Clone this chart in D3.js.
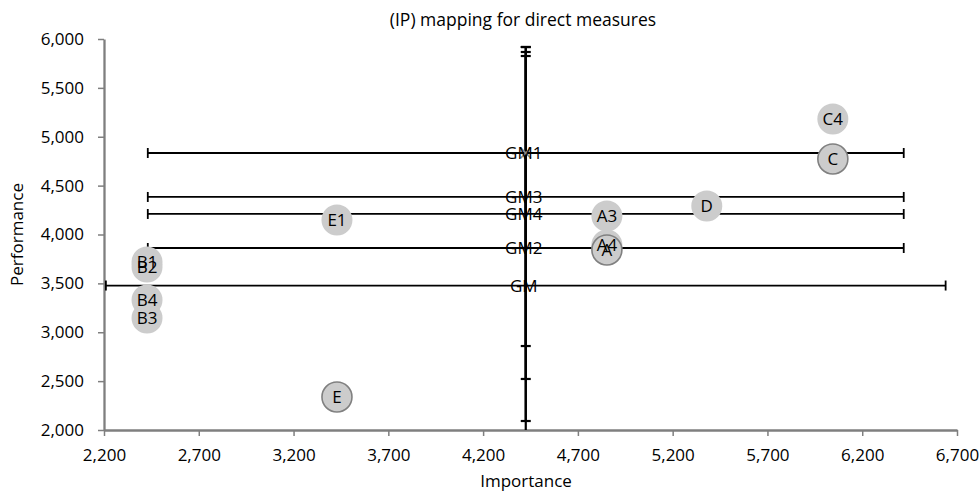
<!DOCTYPE html>
<html>
<head>
<meta charset="utf-8">
<script src="https://cdn.jsdelivr.net/npm/d3@7"></script>
<style>
  body { margin: 0; background: #fff; }
  text { font-family: "Open Sans", "Noto Sans", sans-serif; fill: #000; }
</style>
</head>
<body>
<div id="chart"></div>
<script>
'use strict';

// group means (GM) with error bars
const gmNames = ["GM", "GM1", "GM2", "GM3", "GM4"];
const gmImportance = [4425, 4425, 4425, 4425, 4425];
const gmPerformance = [3478, 4834, 3862, 4384, 4210];
const gmErrX = [2215, 1994, 1994, 1994, 1994];
const gmErrYPlus = [1356, 992, 2056, 1483, 1708];
const gmErrYMinus = [1386, 972, 2056, 1525, 1688];

// overall construct points (outlined)
const mainNames = ["C", "A", "E"];
const mainImportance = [6045, 4853, 3429];
const mainPerformance = [4772, 3841, 2338];

// sub-measure points
const subNames = ["C4", "D", "A3", "A4", "E1", "B1", "B2", "B4", "B3"];
const subImportance = [6045, 5380, 4853, 4853, 3429, 2427, 2427, 2427, 2427];
const subPerformance = [5182, 4292, 4189, 3893, 4148, 3719, 3667, 3330, 3146];

const xTicks = [2200, 2700, 3200, 3700, 4200, 4700, 5200, 5700, 6200, 6700];
const yTicks = [2000, 2500, 3000, 3500, 4000, 4500, 5000, 5500, 6000];

const Color = {
  Axis: `#7f7f7f`,
  Bar: `#000`,
  Fill: `#cccccc`,
  Outline: `#808080`,
};

const W = 980, H = 494;
const margin = {top: 39, right: 23, bottom: 64, left: 104};
const fontSize = "17px";

const svg = d3.select("#chart")
  .append("svg")
    .attr("width", W)
    .attr("height", H);

const x = d3.scaleLinear()
  .domain([2200, 6700])
  .range([margin.left, W - margin.right]);

const y = d3.scaleLinear()
  .domain([2000, 6000])
  .range([H - margin.bottom, margin.top]);

const fmt = d3.format(",");

// title
svg.append("text")
  .attr("x", 523)
  .attr("y", 26)
  .attr("text-anchor", "middle")
  .style("font-size", "17.5px")
  .text("(IP) mapping for direct measures");

// axes
const xAxis = svg.append("g")
  .attr("transform", `translate(0,${y(2000)})`)
  .call(d3.axisBottom(x).tickValues(xTicks).tickFormat(fmt).tickSize(6).tickSizeOuter(0));

const yAxis = svg.append("g")
  .attr("transform", `translate(${x(2200)},0)`)
  .call(d3.axisLeft(y).tickValues(yTicks).tickFormat(fmt).tickSize(6).tickSizeOuter(0));

[xAxis, yAxis].forEach(ax => {
  ax.select(".domain").attr("stroke", Color.Axis).attr("stroke-width", 2.3);
  ax.selectAll(".tick line").attr("stroke", Color.Axis).attr("stroke-width", 1.5);
  ax.selectAll(".tick text").style("font-size", fontSize).attr("fill", "#000");
});
xAxis.selectAll(".tick text").attr("y", 9).attr("dy", "1.3em");
yAxis.selectAll(".tick text").attr("x", -20);

svg.append("text")
  .attr("x", 526)
  .attr("y", 487)
  .attr("text-anchor", "middle")
  .style("font-size", fontSize)
  .text("Importance");

svg.append("text")
  .attr("transform", `translate(23,${y(4000)})rotate(-90)`)
  .attr("text-anchor", "middle")
  .style("font-size", fontSize)
  .text("Performance");

// clip error bars to plot area
svg.append("clipPath").attr("id", "plot-clip")
  .append("rect")
    .attr("x", x(2200))
    .attr("y", y(6000) - 2)
    .attr("width", x(6700) - x(2200) + 2)
    .attr("height", y(2000) - y(6000) + 2);

const gmData = gmNames.map((n, i) => ({
  name: n,
  x: gmImportance[i],
  y: gmPerformance[i],
  ex: gmErrX[i],
  eyp: gmErrYPlus[i],
  eym: gmErrYMinus[i],
}));

const bars = svg.append("g").attr("clip-path", "url(#plot-clip)");
const cap = 5;

// horizontal error bars
gmData.forEach(d => {
  const g = bars.append("g").attr("stroke", Color.Bar).attr("stroke-width", 1.8);
  const cy = y(d.y), x0 = x(d.x - d.ex), x1 = x(d.x + d.ex);
  g.append("line").attr("x1", x0).attr("x2", x1).attr("y1", cy).attr("y2", cy);
  g.append("line").attr("x1", x0).attr("x2", x0).attr("y1", cy - cap).attr("y2", cy + cap);
  g.append("line").attr("x1", x1).attr("x2", x1).attr("y1", cy - cap).attr("y2", cy + cap);
});

// vertical error bars
gmData.forEach(d => {
  const g = bars.append("g").attr("stroke", Color.Bar).attr("stroke-width", 2.2);
  const cx = x(d.x), y0 = y(d.y - d.eym), y1 = y(d.y + d.eyp);
  g.append("line").attr("x1", cx).attr("x2", cx).attr("y1", y0).attr("y2", y1);
  g.append("line").attr("x1", cx - cap).attr("x2", cx + cap).attr("y1", y0).attr("y2", y0);
  g.append("line").attr("x1", cx - cap).attr("x2", cx + cap).attr("y1", y1).attr("y2", y1);
});

// GM1 x marker
const gm1 = gmData[1];
svg.append("path")
  .attr("d", d3.symbol(d3.symbolX, 70)())
  .attr("transform", `translate(${x(gm1.x)},${y(gm1.y)})`)
  .attr("stroke", "#8a8a8a")
  .attr("stroke-width", 1.6)
  .attr("fill", "none");

// GM labels
svg.append("g")
  .selectAll("text")
  .data(gmData)
  .enter()
  .append("text")
    .attr("x", d => x(d.x) - 2)
    .attr("y", d => y(d.y))
    .attr("dy", "0.36em")
    .attr("text-anchor", "middle")
    .style("font-size", fontSize)
    .text(d => d.name);

// points
const subData = subNames.map((n, i) => ({name: n, x: subImportance[i], y: subPerformance[i], main: false}));
const mainData = mainNames.map((n, i) => ({name: n, x: mainImportance[i], y: mainPerformance[i], main: true}));

[subData, mainData].forEach(series => {
  svg.append("g")
    .selectAll("circle")
    .data(series)
    .enter()
    .append("circle")
      .attr("cx", d => x(d.x))
      .attr("cy", d => y(d.y))
      .attr("r", d => d.main ? 15 : 15.5)
      .attr("fill", Color.Fill)
      .attr("stroke", d => d.main ? Color.Outline : "none")
      .attr("stroke-width", 1.6);
});

[subData, mainData].forEach(series => {
  svg.append("g")
    .selectAll("text")
    .data(series)
    .enter()
    .append("text")
      .attr("x", d => x(d.x))
      .attr("y", d => y(d.y))
      .attr("dy", "0.36em")
      .attr("text-anchor", "middle")
      .style("font-size", fontSize)
      .text(d => d.name);
});
</script>
</body>
</html>
